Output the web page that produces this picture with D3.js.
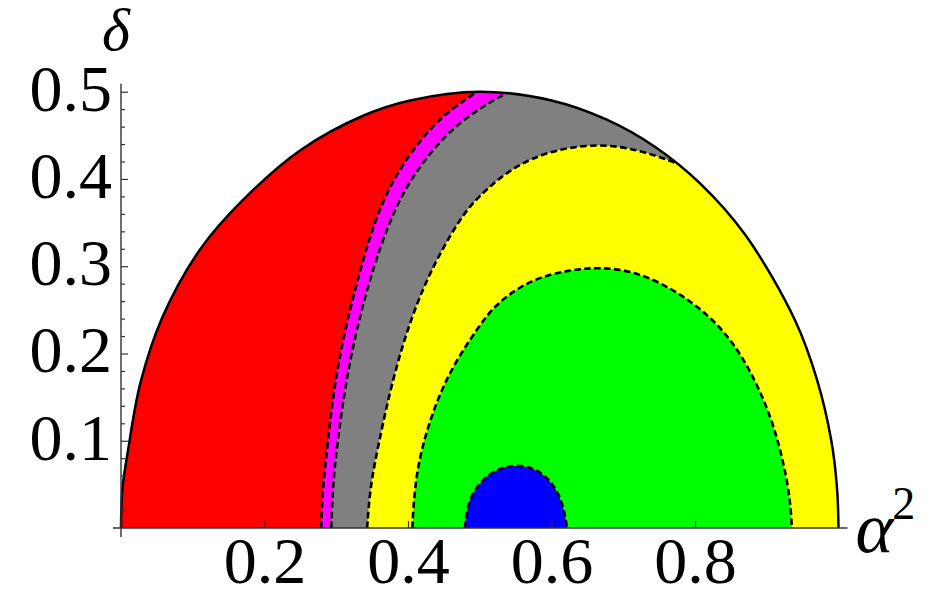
<!DOCTYPE html>
<html><head><meta charset="utf-8">
<script src="https://cdn.jsdelivr.net/npm/d3@7"></script>
<style>
html,body{margin:0;padding:0;background:#fff;} svg{display:block;}
.lbl{font-family:"Liberation Serif","Times New Roman",Times,"DejaVu Serif",serif;}
</style>
</head><body>
<svg id="chart" width="939" height="590"></svg>
<script>
// ---------- data ----------
const xTicks = [0.2, 0.4, 0.6, 0.8];
const xTickLabels = ["0.2", "0.4", "0.6", "0.8"];
const yTicks = [0.1, 0.2, 0.3, 0.4, 0.5];
const yTickLabels = ["0.1", "0.2", "0.3", "0.4", "0.5"];
const yMinorTicks = [0.02, 0.04, 0.06, 0.08, 0.12, 0.14, 0.16, 0.18, 0.22, 0.24, 0.26, 0.28,
                     0.32, 0.34, 0.36, 0.38, 0.42, 0.44, 0.46, 0.48];
const xAxisTitle = "α";
const xAxisTitleSup = "2";
const yAxisTitle = "δ";

// outer (solid) boundary  [α², δ]
const outerBoundary = [[0,0],[0.002,0.045],[0.01,0.09],[0.027,0.166],[0.058,0.242],[0.11,0.319],
  [0.17,0.376],[0.25,0.433],[0.339,0.473],[0.403,0.49],[0.5,0.5],[0.6,0.49],[0.677,0.468],
  [0.744,0.437],[0.807,0.395],[0.87,0.336],[0.94,0.237],[0.97,0.17],[0.99,0.1],[0.998,0.045],[1,0]];
// red | magenta boundary
const curveA = [[0.279,0],[0.281,0.045],[0.287,0.089],[0.3,0.185],[0.328,0.281],[0.36,0.372],
  [0.403,0.431],[0.445,0.471],[0.486,0.494],[0.51,0.508]];
// magenta | gray boundary
const curveB = [[0.293,0],[0.295,0.045],[0.3,0.089],[0.316,0.185],[0.344,0.281],[0.382,0.372],
  [0.427,0.428],[0.473,0.467],[0.528,0.495],[0.555,0.505]];
// gray | yellow boundary
const curveC = [[0.343,0],[0.347,0.045],[0.357,0.089],[0.382,0.185],[0.421,0.281],[0.473,0.356],
  [0.496,0.378],[0.542,0.412],[0.598,0.433],[0.668,0.441],[0.723,0.433],[0.765,0.421],[0.8,0.41],
  [0.9,0.36],[1.02,0.2],[1.05,0]];
// yellow | green boundary
const curveG = [[0.406,0],[0.409,0.045],[0.418,0.089],[0.437,0.14],[0.463,0.187],[0.498,0.23],
  [0.521,0.256],[0.57,0.285],[0.626,0.296],[0.668,0.299],[0.719,0.294],[0.779,0.27],[0.835,0.233],
  [0.874,0.187],[0.907,0.127],[0.925,0.07],[0.933,0.03],[0.935,0]];
// green | blue boundary
const curveBlue = [[0.4794,0],[0.4808,0.0149],[0.4864,0.0355],[0.5045,0.0573],[0.528,0.069],
  [0.552,0.0725],[0.5798,0.068],[0.602,0.0516],[0.616,0.0287],[0.6216,0]];

const colors = {red:"#ff0000", magenta:"#ff00ff", gray:"#808080", yellow:"#ffff00",
                green:"#00ff00", blue:"#0000ff"};

// ---------- drawing ----------
const svg = d3.select("#chart");
svg.append("rect").attr("width",939).attr("height",590).attr("fill","#fff");

const x = d3.scaleLinear().domain([0,1]).range([121,838.5]);
const y = d3.scaleLinear().domain([0,0.5]).range([528,91.7]);
const outerCurve = d3.curveCatmullRom.alpha(0.5);
const inner = d3.curveBasis;

const outerLine = d3.line().x(d=>x(d[0])).y(d=>y(d[1])).curve(outerCurve);
const line = d3.line().x(d=>x(d[0])).y(d=>y(d[1])).curve(inner);
const leftArea = d3.area().curve(inner)
  .y(d=>y(d[1])).x0(x(-0.05)).x1(d=>x(d[0]));

const defs = svg.append("defs");
defs.append("clipPath").attr("id","dom")
  .append("path").attr("d", outerLine(outerBoundary) + "Z");

const g = svg.append("g").attr("clip-path","url(#dom)");
g.append("path").attr("d", outerLine(outerBoundary)+"Z").attr("fill",colors.gray);
g.append("path").attr("d", leftArea(curveB)).attr("fill",colors.magenta);
g.append("path").attr("d", leftArea(curveA)).attr("fill",colors.red);
g.append("path").attr("d", line(curveC)+"Z").attr("fill",colors.yellow);
g.append("path").attr("d", line(curveG)+"Z").attr("fill",colors.green);
g.append("path").attr("d", line(curveBlue)+"Z").attr("fill",colors.blue);

[curveA, curveB, curveC, curveG, curveBlue].forEach(c => {
  g.append("path").attr("d", line(c)).attr("fill","none")
    .attr("stroke","#000").attr("stroke-width",2.6).attr("stroke-dasharray","6.5,3.5");
});

svg.append("path").attr("d", outerLine(outerBoundary)).attr("fill","none")
  .attr("stroke","#000").attr("stroke-width",2.5);

// axes
const axisColor = "#333";

const yAxis = d3.axisLeft(y).tickValues(yTicks).tickFormat((d,i)=>yTickLabels[i])
  .tickSizeInner(-7).tickSizeOuter(0).tickPadding(9);
const yg = svg.append("g").attr("transform",`translate(${x(0)},0)`).call(yAxis);
yg.attr("font-family",null).attr("font-size",null);
yg.select(".domain").remove();
yg.selectAll(".tick line").attr("stroke",axisColor).attr("stroke-width",1.2);
yg.selectAll(".tick text").attr("class","lbl").style("font-size","66px").attr("fill","#000").attr("dy","0.28em");

const yMinor = d3.axisLeft(y).tickValues(yMinorTicks).tickFormat("").tickSizeInner(-4).tickSizeOuter(0);
const ym = svg.append("g").attr("transform",`translate(${x(0)},0)`).call(yMinor);
ym.select(".domain").remove();
ym.selectAll(".tick line").attr("stroke",axisColor).attr("stroke-width",1.2);

const xAxis = d3.axisBottom(x).tickValues(xTicks).tickFormat((d,i)=>xTickLabels[i])
  .tickSizeInner(-7).tickSizeOuter(0).tickPadding(8);
const xg = svg.append("g").attr("transform",`translate(0,${y(0)})`).call(xAxis);
xg.attr("font-family",null).attr("font-size",null);
xg.select(".domain").remove();
xg.selectAll(".tick line").attr("stroke",axisColor).attr("stroke-width",1.2);
xg.selectAll(".tick text").attr("class","lbl").style("font-size","66px").attr("fill","#000");

// axis lines (slightly extended past the data range, as in the reference)
svg.append("line").attr("x1",x(0)).attr("x2",x(0)).attr("y1",y(0)+9).attr("y2",y(0.5)-8)
  .attr("stroke",axisColor).attr("stroke-width",1.4);
svg.append("line").attr("x1",x(0)-8).attr("x2",x(1)+9).attr("y1",y(0)).attr("y2",y(0))
  .attr("stroke",axisColor).attr("stroke-width",1.6);

// axis titles
svg.append("text").attr("class","lbl").attr("x",x(0)-19).attr("y",y(0.5)-42)
  .style("font-style","italic").style("font-size","60px").attr("fill","#000")
  .text(yAxisTitle);
const xt = svg.append("text").attr("class","lbl").attr("x",x(1)+17).attr("y",y(0)+24)
  .style("font-size","72px").attr("fill","#000");
xt.append("tspan").style("font-style","italic").text(xAxisTitle);
xt.append("tspan").style("font-size","46px").attr("dy",-33).attr("dx",-1).text(xAxisTitleSup);
</script>
</body></html>
